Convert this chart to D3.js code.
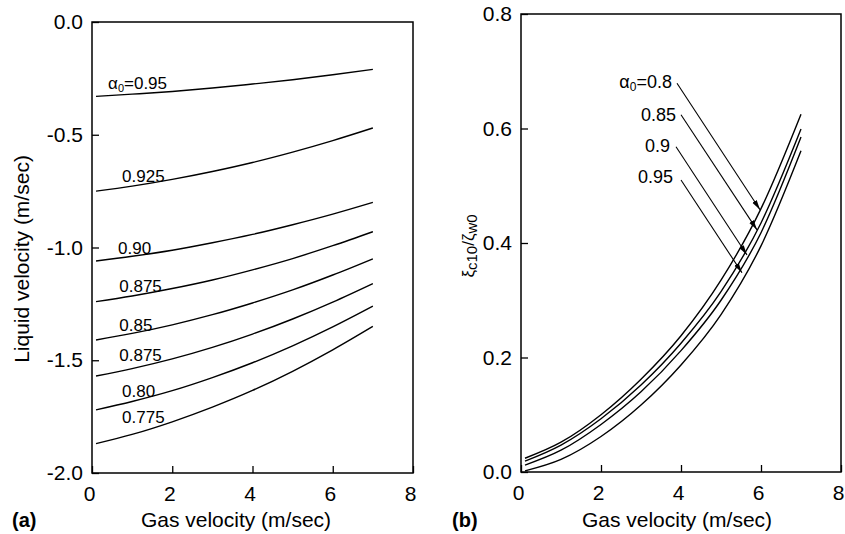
<!DOCTYPE html>
<html>
<head>
<meta charset="utf-8">
<script src="https://cdn.jsdelivr.net/npm/d3@7"></script>
<style>
  body { margin: 0; background: #fff; }
  svg { display: block; font-family: Arial, "Liberation Sans", Helvetica, sans-serif; }
</style>
</head>
<body>
<div id="chart"></div>
<script>
// gas velocity samples (m/sec), shared by both panels
var gasVelocity = [0.1, 1, 2, 3, 4, 5, 6, 7];

// panel (a): liquid velocity (m/sec) for each alpha0
var liq095   = [-0.33, -0.320, -0.308, -0.293, -0.275, -0.256, -0.234, -0.21];
var liq0925  = [-0.75, -0.728, -0.698, -0.663, -0.623, -0.577, -0.526, -0.47];
var liq090   = [-1.06, -1.039, -1.012, -0.979, -0.942, -0.899, -0.852, -0.80];
var liq0875a = [-1.24, -1.215, -1.182, -1.144, -1.099, -1.049, -0.992, -0.93];
var liq085   = [-1.41, -1.381, -1.343, -1.298, -1.246, -1.188, -1.122, -1.05];
var liq0875b = [-1.57, -1.537, -1.494, -1.443, -1.384, -1.317, -1.242, -1.16];
var liq080   = [-1.72, -1.683, -1.635, -1.577, -1.511, -1.436, -1.352, -1.26];
var liq0775  = [-1.87, -1.829, -1.773, -1.708, -1.634, -1.549, -1.454, -1.35];

var leftLabels = ["0.95", "0.925", "0.90", "0.875", "0.85", "0.875", "0.80", "0.775"];
var leftLabelX = [0.4, 0.75, 0.65, 0.68, 0.68, 0.68, 0.75, 0.75];
var leftLabelY = [-0.297, -0.710, -1.029, -1.197, -1.370, -1.503, -1.663, -1.778];

// panel (b): xi_c10 / zeta_w0 for each alpha0
var ratio080 = [0.024, 0.052, 0.100, 0.162, 0.238, 0.335, 0.460, 0.625];
var ratio085 = [0.019, 0.047, 0.093, 0.152, 0.225, 0.315, 0.435, 0.599];
var ratio090 = [0.012, 0.038, 0.083, 0.140, 0.212, 0.300, 0.418, 0.585];
var ratio095 = [0.002, 0.022, 0.062, 0.117, 0.187, 0.275, 0.395, 0.561];

var rightLabels = ["0.8", "0.85", "0.9", "0.95"];
var rightLabelX = [3.775, 3.875, 3.725, 3.8];
var rightLabelY = [0.671, 0.613, 0.559, 0.505];
var arrowFromX = [3.9, 4.0, 3.875, 4.0];
var arrowFromY = [0.679, 0.624, 0.568, 0.510];
var arrowToX = [5.975, 5.9, 5.65, 5.525];
var arrowToY = [0.458, 0.423, 0.379, 0.348];

var xTicks = [0, 2, 4, 6, 8];
var leftYTicks = [0, -0.5, -1, -1.5, -2];
var rightYTicks = [0, 0.2, 0.4, 0.6, 0.8];

var svg = d3.select('#chart').append('svg')
  .attr('width', 845)
  .attr('height', 534);

var defs = svg.append('defs');
defs.append('marker')
  .attr('id', 'head')
  .attr('markerUnits', 'userSpaceOnUse')
  .attr('viewBox', '0 -3 10 6')
  .attr('markerWidth', 10)
  .attr('markerHeight', 6)
  .attr('refX', 10)
  .attr('refY', 0)
  .attr('orient', 'auto')
  .append('path')
  .attr('d', 'M0,-2.6L10,0L0,2.6Z')
  .attr('fill', '#000');

function fmt(d) { return d.toFixed(1); }

function drawPanel(xs, ys, yTicks) {
  var g = svg.append('g');
  var x0 = xs.range()[0], x1 = xs.range()[1];
  var y0 = ys.range()[0], y1 = ys.range()[1];

  g.append('rect')
    .attr('x', x0).attr('y', y1)
    .attr('width', x1 - x0).attr('height', y0 - y1)
    .attr('fill', 'none').attr('stroke', '#000').attr('stroke-width', 1.5);

  var xa = g.append('g')
    .attr('transform', 'translate(0,' + y0 + ')')
    .call(d3.axisBottom(xs).tickValues(xTicks).tickSizeInner(-7).tickSizeOuter(0).tickPadding(13));
  xa.selectAll('text').attr('dx', -3);

  g.append('g')
    .attr('transform', 'translate(' + x0 + ',0)')
    .call(d3.axisLeft(ys).tickValues(yTicks).tickFormat(fmt).tickSizeInner(-7).tickSizeOuter(0).tickPadding(9));

  g.selectAll('.domain').remove();
  g.selectAll('.tick line').attr('stroke', '#000').attr('stroke-width', 1.3);
  g.selectAll('.tick text')
    .attr('fill', '#000')
    .attr('font-size', 21)
    .attr('font-family', 'Arial, "Liberation Sans", sans-serif');
  return g;
}

// ---------- panel (a)
var xL = d3.scaleLinear().domain([0, 8]).range([92, 413]);
var yL = d3.scaleLinear().domain([-2, 0]).range([473, 22]);
var gL = drawPanel(xL, yL, leftYTicks);

var lineL = d3.line()
  .x(function(d, i) { return xL(gasVelocity[i]); })
  .y(function(d) { return yL(d); })
  .curve(d3.curveMonotoneX);

gL.selectAll('path.curve')
  .data([liq095, liq0925, liq090, liq0875a, liq085, liq0875b, liq080, liq0775])
  .enter().append('path')
  .attr('class', 'curve')
  .attr('d', lineL)
  .attr('fill', 'none')
  .attr('stroke', '#000')
  .attr('stroke-width', 1.4);

var labL = gL.selectAll('text.lab')
  .data(leftLabels)
  .enter().append('text')
  .attr('class', 'lab')
  .attr('x', function(d, i) { return xL(leftLabelX[i]); })
  .attr('y', function(d, i) { return yL(leftLabelY[i]); })
  .attr('font-size', 17);
labL.each(function(d, i) {
  var t = d3.select(this);
  if (i === 0) {
    t.append('tspan').text('α');
    t.append('tspan').attr('font-size', 11).attr('dy', 3).text('0');
    t.append('tspan').attr('dy', -3).text('=' + d);
  } else {
    t.text(d);
  }
});

gL.append('text')
  .attr('transform', 'translate(29,259) rotate(-90)')
  .attr('text-anchor', 'middle')
  .attr('font-size', 21)
  .text('Liquid velocity (m/sec)');

gL.append('text')
  .attr('x', 236).attr('y', 527)
  .attr('text-anchor', 'middle')
  .attr('font-size', 21)
  .text('Gas velocity (m/sec)');

gL.append('text')
  .attr('x', 12).attr('y', 527)
  .attr('font-size', 20).attr('font-weight', 'bold')
  .text('(a)');

// ---------- panel (b)
var xR = d3.scaleLinear().domain([0, 8]).range([521, 841]);
var yR = d3.scaleLinear().domain([0, 0.8]).range([472, 14]);
var gR = drawPanel(xR, yR, rightYTicks);

var lineR = d3.line()
  .x(function(d, i) { return xR(gasVelocity[i]); })
  .y(function(d) { return yR(d); })
  .curve(d3.curveMonotoneX);

gR.selectAll('path.curve')
  .data([ratio080, ratio085, ratio090, ratio095])
  .enter().append('path')
  .attr('class', 'curve')
  .attr('d', lineR)
  .attr('fill', 'none')
  .attr('stroke', '#000')
  .attr('stroke-width', 1.4);

gR.selectAll('line.arrow')
  .data(rightLabels)
  .enter().append('line')
  .attr('class', 'arrow')
  .attr('x1', function(d, i) { return xR(arrowFromX[i]); })
  .attr('y1', function(d, i) { return yR(arrowFromY[i]); })
  .attr('x2', function(d, i) { return xR(arrowToX[i]); })
  .attr('y2', function(d, i) { return yR(arrowToY[i]); })
  .attr('stroke', '#000')
  .attr('stroke-width', 1.1)
  .attr('marker-end', 'url(#head)');

var labR = gR.selectAll('text.lab')
  .data(rightLabels)
  .enter().append('text')
  .attr('class', 'lab')
  .attr('x', function(d, i) { return xR(rightLabelX[i]); })
  .attr('y', function(d, i) { return yR(rightLabelY[i]); })
  .attr('text-anchor', 'end')
  .attr('font-size', 18);
labR.each(function(d, i) {
  var t = d3.select(this);
  if (i === 0) {
    t.append('tspan').text('α');
    t.append('tspan').attr('font-size', 12).attr('dy', 3).text('0');
    t.append('tspan').attr('dy', -3).text('=' + d);
  } else {
    t.text(d);
  }
});

var yt = gR.append('text')
  .attr('transform', 'translate(474,246) rotate(-90)')
  .attr('text-anchor', 'middle')
  .attr('font-size', 17);
yt.append('tspan').text('ξ');
yt.append('tspan').attr('dy', 3).attr('font-size', 15).text('c10');
yt.append('tspan').attr('dy', -3).text('/ζ');
yt.append('tspan').attr('dy', 3).attr('font-size', 15).text('w0');

gR.append('text')
  .attr('x', 677).attr('y', 527)
  .attr('text-anchor', 'middle')
  .attr('font-size', 21)
  .text('Gas velocity (m/sec)');

gR.append('text')
  .attr('x', 452).attr('y', 527)
  .attr('font-size', 20).attr('font-weight', 'bold')
  .text('(b)');
</script>
</body>
</html>
